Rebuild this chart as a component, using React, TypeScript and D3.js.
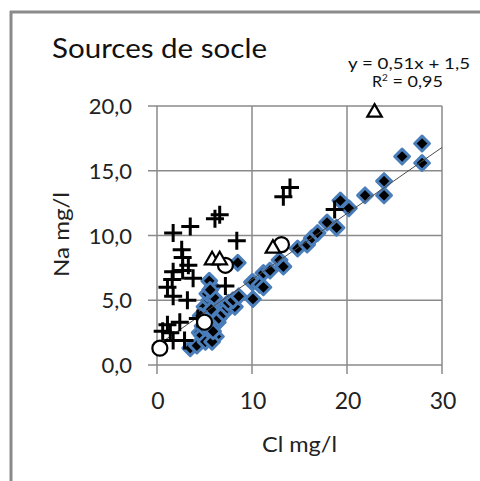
import React, { useEffect, useRef } from "react";
import * as d3 from "d3";

const W = 480;
const H = 481;
const PLOT = { LEFT: 157, RIGHT: 442, TOP: 106, BOTTOM: 365 };
const FONT = "Lato, 'Open Sans', sans-serif";

const xTicks = [0, 10, 20, 30];
const yTicks = [0, 5, 10, 15, 20];

// Cl (x) / Na (y), mg/l
const diamondCl = [3.5, 4.2, 4.5, 4.7, 4.8, 5.0, 5.1, 5.2, 5.0, 5.5, 5.3, 5.8, 5.5, 6.0, 6.1, 6.4, 6.2, 5.4, 5.8, 6.5, 7.0, 7.2, 7.4, 8.2, 7.5, 8.0, 8.6, 8.5, 10.0, 10.1, 10.1, 10.8, 11.2, 11.2, 11.9, 12.9, 13.3, 14.8, 15.8, 16.3, 16.9, 17.9, 18.9, 19.3, 20.2, 21.9, 23.9, 23.9, 25.8, 27.9, 27.9, 5.6, 5.7, 4.6, 5.9];
const diamondNa = [1.3, 1.5, 2.5, 2.3, 3.0, 3.5, 1.8, 4.0, 4.5, 5.0, 5.5, 6.0, 6.5, 5.2, 3.9, 3.3, 2.2, 2.9, 1.8, 3.6, 4.0, 4.6, 4.4, 4.5, 4.8, 5.0, 5.3, 7.9, 6.4, 5.1, 6.4, 6.2, 7.1, 6.0, 7.3, 8.1, 7.6, 9.0, 9.3, 9.8, 10.2, 11.0, 10.6, 12.7, 12.1, 13.1, 14.2, 13.1, 16.1, 17.1, 15.6, 5.8, 4.3, 3.8, 2.6];

const crossCl = [13.3, 14.0, 6.6, 6.1, 3.5, 1.7, 8.4, 2.6, 2.7, 3.3, 2.7, 1.7, 3.8, 1.6, 1.1, 7.2, 1.7, 3.2, 2.4, 1.1, 0.6, 1.4, 1.7, 2.9, 4.3, 18.7];
const crossNa = [13.0, 13.7, 11.6, 11.3, 10.7, 10.2, 9.6, 8.9, 8.3, 7.7, 7.3, 7.2, 6.7, 6.6, 6.0, 6.1, 5.3, 5.0, 3.3, 3.1, 2.6, 2.5, 1.9, 1.9, 3.6, 12.0];

const triangleCl = [22.9, 12.2, 5.8, 6.6];
const triangleNa = [19.5, 9.0, 8.1, 8.1];

const circleCl = [13.1, 7.2, 0.3, 5.0];
const circleNa = [9.3, 7.7, 1.3, 3.3];

const slope = 0.51;
const intercept = 1.5;

export default function App() {
  const ref = useRef<SVGSVGElement>(null);

  useEffect(() => {
    const svg = d3.select(ref.current);
    svg.selectAll("*").remove();

    const x = d3.scaleLinear().domain([0, 30]).range([PLOT.LEFT, PLOT.RIGHT]);
    const y = d3.scaleLinear().domain([0, 20]).range([PLOT.BOTTOM, PLOT.TOP]);

    // outer frame (only left and top visible)
    svg.append("line").attr("x1", 11).attr("x2", 11).attr("y1", 11).attr("y2", H)
      .attr("stroke", "#8a8a8a").attr("stroke-width", 3);
    svg.append("line").attr("x1", 10).attr("x2", W).attr("y1", 12).attr("y2", 12)
      .attr("stroke", "#8a8a8a").attr("stroke-width", 3);

    // gridlines + tick marks
    const grid = svg.append("g").attr("stroke", "#8a8a8a").attr("stroke-width", 1.5);
    grid.selectAll("line.h").data(yTicks).enter().append("line")
      .attr("x1", PLOT.LEFT - 9).attr("x2", PLOT.RIGHT)
      .attr("y1", (d) => y(d)).attr("y2", (d) => y(d));
    grid.selectAll("line.v").data(xTicks).enter().append("line")
      .attr("x1", (d) => x(d)).attr("x2", (d) => x(d))
      .attr("y1", PLOT.TOP).attr("y2", PLOT.BOTTOM + 9);

    // tick labels
    svg.append("g").selectAll("text").data(yTicks).enter().append("text")
      .attr("x", 132).attr("y", (d) => y(d) + 8)
      .attr("text-anchor", "end").attr("font-family", FONT).attr("font-size", 22)
      .attr("fill", "#222")
      .text((d) => d3.format(".1f")(d).replace(".", ","));
    svg.append("g").selectAll("text").data(xTicks).enter().append("text")
      .attr("x", (d) => x(d) + 1).attr("y", 409)
      .attr("text-anchor", "middle").attr("font-family", FONT).attr("font-size", 23)
      .attr("fill", "#222")
      .text((d) => String(d));

    // axis titles
    svg.append("text").attr("x", 262).attr("y", 452)
      .attr("textLength", 75).attr("lengthAdjust", "spacingAndGlyphs")
      .attr("font-family", FONT).attr("font-size", 22)
      .attr("fill", "#222").text("Cl mg/l");
    svg.append("text")
      .attr("transform", `translate(69, 277) rotate(-90)`)
      .attr("textLength", 85).attr("lengthAdjust", "spacingAndGlyphs")
      .attr("font-family", FONT).attr("font-size", 22)
      .attr("fill", "#222").text("Na mg/l");

    // title + equation
    svg.append("text").attr("x", 52).attr("y", 58)
      .attr("textLength", 215).attr("lengthAdjust", "spacingAndGlyphs")
      .attr("font-family", FONT).attr("font-size", 26).attr("fill", "#111")
      .text("Sources de socle");
    svg.append("text").attr("x", 348).attr("y", 69)
      .attr("textLength", 122).attr("lengthAdjust", "spacingAndGlyphs")
      .attr("font-family", FONT).attr("font-size", 16).attr("fill", "#111")
      .text("y = 0,51x + 1,5");
    const r2 = svg.append("text").attr("x", 372).attr("y", 87)
      .attr("font-family", FONT).attr("font-size", 16).attr("fill", "#111");
    r2.append("tspan").text("R");
    r2.append("tspan").attr("dy", -6).attr("font-size", 10).text("2");
    r2.append("tspan").attr("dy", 6).attr("textLength", 55)
      .attr("lengthAdjust", "spacingAndGlyphs").text(" = 0,95");

    // diamonds
    const diamond = d3.symbol().type(d3.symbolDiamond2).size(140);
    svg.append("g").selectAll("path").data(d3.range(diamondCl.length)).enter().append("path")
      .attr("transform", (i) => `translate(${x(diamondCl[i])},${y(diamondNa[i])})`)
      .attr("d", diamond)
      .attr("fill", "#000").attr("stroke", "#4a7ebb").attr("stroke-width", 3)
      .attr("stroke-linejoin", "round");

    // trendline
    svg.append("line")
      .attr("x1", x(0)).attr("y1", y(intercept))
      .attr("x2", x(30)).attr("y2", y(slope * 30 + intercept))
      .attr("stroke", "#4d4d4d").attr("stroke-width", 1);

    // crosses
    const cross = svg.append("g").selectAll("g").data(d3.range(crossCl.length)).enter().append("g")
      .attr("transform", (i) => `translate(${x(crossCl[i])},${y(crossNa[i])})`);
    cross.append("path").attr("d", "M-9,0H9M0,-9V9")
      .attr("stroke", "#000").attr("stroke-width", 3).attr("fill", "none");

    // circles
    svg.append("g").selectAll("circle").data(d3.range(circleCl.length)).enter().append("circle")
      .attr("cx", (i) => x(circleCl[i])).attr("cy", (i) => y(circleNa[i])).attr("r", 7.5)
      .attr("fill", "#fff").attr("stroke", "#000").attr("stroke-width", 2.2);

    // triangles
    const tri = d3.symbol().type(d3.symbolTriangle2).size(150);
    svg.append("g").selectAll("path").data(d3.range(triangleCl.length)).enter().append("path")
      .attr("transform", (i) => `translate(${x(triangleCl[i])},${y(triangleNa[i])})`)
      .attr("d", tri)
      .attr("fill", "#fff").attr("stroke", "#000").attr("stroke-width", 2.2);
  }, []);

  return (
    <svg
      ref={ref}
      width={W}
      height={H}
      style={{ position: "absolute", left: 0, top: 0, background: "#fff" }}
    />
  );
}
